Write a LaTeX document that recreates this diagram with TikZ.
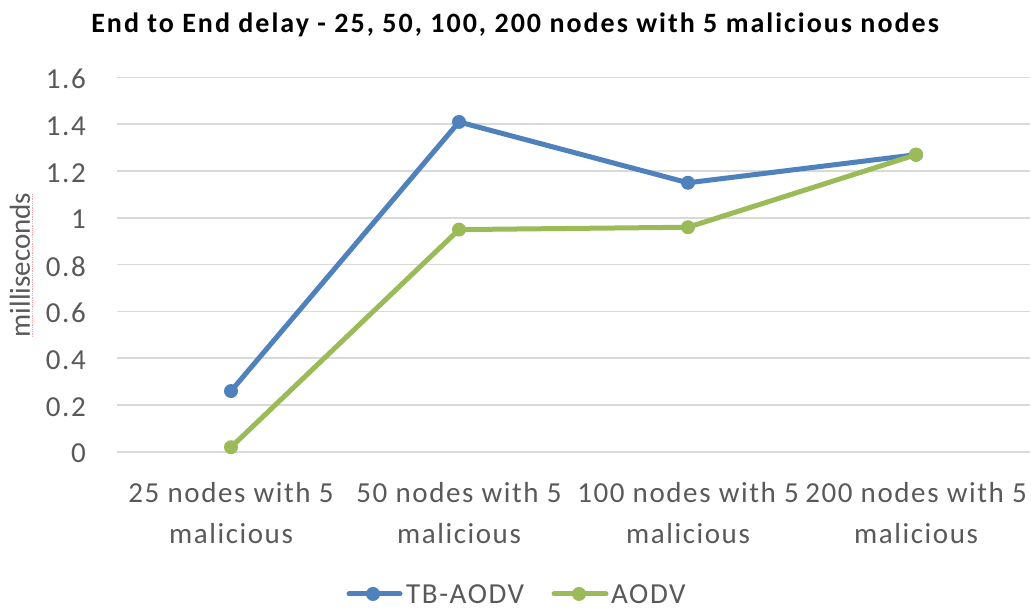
\documentclass[tikz,border=0pt]{standalone}
\usepackage{fontspec}
\setmainfont{Carlito}
\newfontfamily\chartfont[LetterSpace=5.5]{Carlito}
\newfontfamily\titlefont[LetterSpace=7.2]{Carlito Bold}
\definecolor{txtgray}{HTML}{595959}
\definecolor{gridgray}{HTML}{D9D9D9}
\definecolor{tbblue}{HTML}{4F81BD}
\definecolor{aodvgreen}{HTML}{9BBB59}
\begin{document}
\begin{tikzpicture}[x=1pt,y=1pt,
  ticklbl/.style={anchor=east,text=txtgray,font=\chartfont\fontsize{29}{35}\selectfont,inner sep=0pt},
  catlbl/.style={align=center,text=txtgray,font=\chartfont\fontsize{29}{41}\selectfont,inner sep=0pt},
  legtxt/.style={anchor=west,text=txtgray,font=\chartfont\fontsize{29}{35}\selectfont,inner sep=0pt},
  gridline/.style={draw=gridgray,line width=1.6pt},
  series/.style={line width=5pt,line join=round,line cap=round},
  dot/.style={circle,fill=#1,minimum size=14pt,inner sep=0pt}]
\useasboundingbox (0,0) rectangle (1031,609);
\fill[white] (0,0) rectangle (1031,609);
% title
\node[font=\titlefont\fontsize{28}{32}\selectfont,inner sep=0pt,anchor=base] (title) at (515,576) {End to End delay - 25, 50, 100, 200 nodes with 5 malicious nodes};
% axis title with its spelling mark
\node[rotate=90,text=txtgray,font=\fontsize{29}{35}\selectfont,inner sep=0pt] (ytitle) at (20,344) {milliseconds};
\draw[red!35,line width=0.8pt,densely dotted] (32,272) -- (32,416);
\begin{scope}[shift={(117,157.1)},y=234pt]
  \foreach \v in {0,0.2,0.4,0.6,0.8,1,1.2,1.4,1.6}{
    \draw[gridline] (0,\v) -- (913,\v);
    \node[ticklbl] at (-31,\v-0.007) {\v};
  }
  \node[catlbl,anchor=north] (k1) at (114,-0.13) {25 nodes with 5\\malicious};
  \node[catlbl,anchor=north] (k2) at (342,-0.13) {50 nodes with 5\\malicious};
  \node[catlbl,anchor=north] (k3) at (571,-0.13) {100 nodes with 5\\malicious};
  \node[catlbl,anchor=north] (k4) at (799,-0.13) {200 nodes with 5\\malicious};
  % TB-AODV
  \node[dot=tbblue] (t1) at (114,0.26) {};
  \node[dot=tbblue] (t2) at (342,1.41) {};
  \node[dot=tbblue] (t3) at (571,1.15) {};
  \node[dot=tbblue] (t4) at (799,1.27) {};
  \draw[series,tbblue] (t1.center) -- (t2.center) -- (t3.center) -- (t4.center);
  % AODV
  \node[dot=aodvgreen] (a1) at (114,0.02) {};
  \node[dot=aodvgreen] (a2) at (342,0.95) {};
  \node[dot=aodvgreen] (a3) at (571,0.96) {};
  \node[dot=aodvgreen] (a4) at (799,1.27) {};
  \draw[series,aodvgreen] (a1.center) -- (a2.center) -- (a3.center) -- (a4.center);
\end{scope}
% legend
\coordinate (lb1) at (349,15);
\coordinate (lb2) at (400,15);
\draw[series,tbblue] (lb1) -- (lb2);
\node[dot=tbblue] (lbdot) at (373,15) {};
\node[legtxt] (lbtxt) at (406,15) {TB-AODV};
\coordinate (lg1) at (554,15);
\coordinate (lg2) at (606,15);
\draw[series,aodvgreen] (lg1) -- (lg2);
\node[dot=aodvgreen] (lgdot) at (579,15) {};
\node[legtxt] (lgtxt) at (611,15) {AODV};
\end{tikzpicture}
\end{document}
